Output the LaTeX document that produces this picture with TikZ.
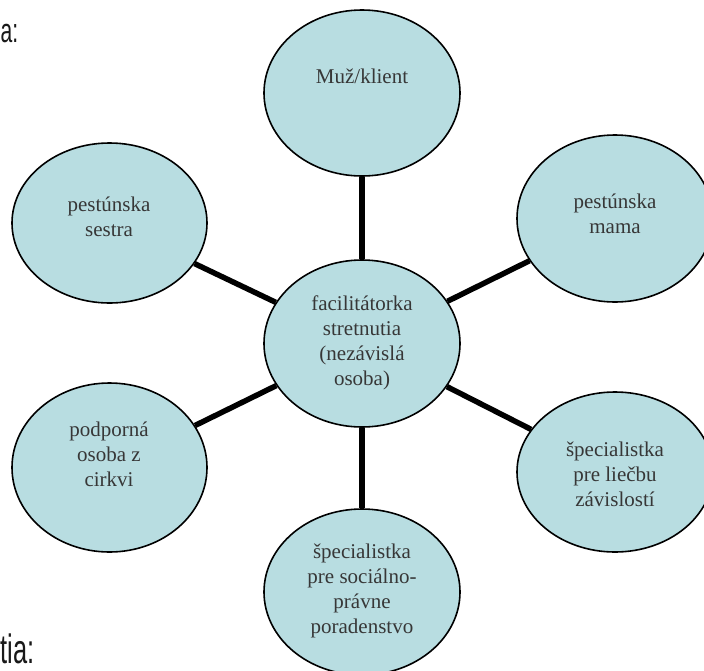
\documentclass[tikz,border=0pt]{standalone}
\usepackage{fontspec}
\setmainfont{Liberation Serif}
\newfontfamily\condsans[FakeStretch=0.62]{Liberation Sans}
\usetikzlibrary{shapes.geometric}
\definecolor{bubble}{RGB}{184,221,225}
\definecolor{txt}{RGB}{55,55,55}
\tikzset{
  bub/.style={ellipse, draw=black, line width=1.6pt, fill=bubble, inner sep=0pt},
  lbl/.style={anchor=north, align=center, inner sep=0pt, text=txt,
              font=\fontsize{21}{25}\selectfont},
  spoke/.style={line width=5.5pt, draw=black},
  side/.style={inner sep=0pt, text=black!90}
}
\begin{document}
\begin{tikzpicture}[x=1pt,y=-1pt]
\useasboundingbox (0,0) rectangle (704,670);
% bubbles
\node[bub, minimum width=196pt, minimum height=166pt] (top) at (362,93) {};
\node[bub, minimum width=196pt, minimum height=167pt] (mid) at (362,343.5) {};
\node[bub, minimum width=195pt, minimum height=160pt] (sis) at (109.5,223) {};
\node[bub, minimum width=196pt, minimum height=167pt] (mom) at (615,218.5) {};
\node[bub, minimum width=195pt, minimum height=169pt] (church) at (109.5,467.5) {};
\node[bub, minimum width=196pt, minimum height=160pt] (addict) at (615,472) {};
\node[bub, minimum width=196pt, minimum height=166pt] (legal) at (362,592) {};
% spokes
\draw[spoke] (mid) -- (top);
\draw[spoke] (mid) -- (sis);
\draw[spoke] (mid) -- (mom);
\draw[spoke] (mid) -- (church);
\draw[spoke] (mid) -- (addict);
\draw[spoke] (mid) -- (legal);
% texts (north = first baseline - 17.5)
\node[lbl] (ttop) at (362,65.8) {\strut Muž/klient};
\node[lbl] (tmid) at (362,292.5) {\strut facilitátorka\\stretnutia\\(nezávislá\\osoba)};
\node[lbl] (tsis) at (109,194.2) {\strut pestúnska\\sestra};
\node[lbl] (tmom) at (615,190.8) {\strut pestúnska\\mama};
\node[lbl] (tchurch) at (109,419.2) {\strut podporná\\osoba z\\cirkvi};
\node[lbl] (taddict) at (615,439.2) {\strut špecialistka\\pre liečbu\\závislostí};
\node[lbl] (tlegal) at (362,540.8) {\strut špecialistka\\pre sociálno-\\právne\\poradenstvo};
% side fragments
\node[side, anchor=base west, font=\condsans\fontsize{34}{40}\selectfont] (fa) at (0.5,42.5) {a:};
\node[side, anchor=base west, font=\condsans\fontsize{41}{48}\selectfont] (fb) at (0.5,663.3) {tia:};
\end{tikzpicture}
\end{document}
